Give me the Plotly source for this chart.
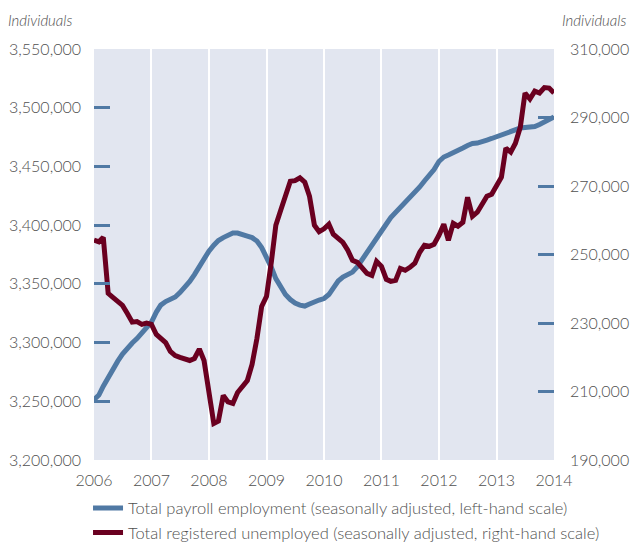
import pandas as pd
import plotly.graph_objects as go

# monthly, Jan 2006 .. Jan 2014
months = pd.date_range("2006-01-01", "2014-01-01", freq="MS")

# total payroll employment, left-hand scale
payroll = [
    3251400, 3255300, 3262900, 3270600, 3277900, 3284200, 3290200, 3295300, 3299600, 3303400, 3308100, 3312300,
    3317500, 3326000, 3331900, 3334900, 3336600, 3338800, 3342600, 3346800, 3352000, 3357900, 3364700, 3372000,
    3377900, 3383000, 3386900, 3389400, 3391100, 3393300, 3393300, 3391600, 3390700, 3389400, 3386500, 3380900,
    3372800, 3363900, 3354500, 3346800, 3340900, 3336600, 3333600, 3331900, 3331100, 3332800, 3334900, 3336200,
    3337500, 3340900, 3346400, 3352400, 3355800, 3357500, 3360000, 3364700, 3371100, 3376200, 3381800, 3388200,
    3395000, 3401000, 3406500, 3410700, 3415000, 3419200, 3423100, 3427300, 3432500, 3437600, 3442200, 3447400,
    3454200, 3458000, 3459700, 3461400, 3464000, 3465700, 3467800, 3469500, 3469900, 3470800, 3472500, 3473800,
    3475500, 3476700, 3478000, 3480200, 3481900, 3482700, 3483100, 3483100, 3484000, 3485700, 3487800, 3489500,
    3492100,
]

# total registered unemployed, right-hand scale
unemployed = [
    254200, 253700, 255000, 238650, 237500, 236300, 235150, 232800, 230250, 230400, 229600, 229950,
    229600, 226650, 225350, 224300, 221700, 220500, 219950, 219650, 219050, 219650, 222400, 219050,
    210300, 200650, 201350, 208850, 206950, 206500, 209700, 211450, 213200, 217900, 225500, 234850,
    237800, 248000, 258550, 262900, 267600, 271400, 271550, 272400, 271100, 267000, 258550, 256650,
    257500, 258850, 255900, 254750, 253550, 251250, 248300, 247700, 245950, 244500, 243900, 248000,
    246550, 242750, 242150, 242450, 245950, 245400, 246250, 247450, 250650, 252700, 252400, 253000,
    255600, 258850, 254150, 259100, 258250, 259400, 266700, 261150, 262350, 264700, 267000, 267600,
    270250, 272550, 281050, 279900, 282500, 287200, 297150, 295400, 297700, 297150, 298750, 298600,
    297150,
]

left_ticks = [3200000, 3250000, 3300000, 3350000, 3400000, 3450000, 3500000, 3550000]
right_ticks = [190000, 210000, 230000, 250000, 270000, 290000, 310000]

BLUE = "#5079a4"
MAROON = "#6a0020"
TXT = "#505050"

fig = go.Figure()

fig.add_trace(
    go.Scatter(
        x=months,
        y=payroll,
        name="Total payroll employment (seasonally adjusted, left-hand scale)",
        mode="lines",
        line={"color": BLUE, "width": 5},
    )
)
fig.add_trace(
    go.Scatter(
        x=months,
        y=unemployed,
        name="Total registered unemployed (seasonally adjusted, right-hand scale)",
        mode="lines",
        line={"color": MAROON, "width": 5},
        yaxis="y2",
    )
)

fig.update_layout(
    width=633,
    height=544,
    margin={"l": 94, "r": 79, "t": 49, "b": 84, "autoexpand": False},
    paper_bgcolor="white",
    plot_bgcolor="#e2e6f0",
    font=dict(family="Lato, sans-serif", size=16, color=TXT, weight=300),
    showlegend=True,
    legend=dict(
        orientation="v",
        x=-0.013,
        xanchor="left",
        y=-0.075,
        yanchor="top",
        font=dict(size=16.5, color=TXT, weight=300),
        tracegroupgap=0,
        itemwidth=30,
        bgcolor="rgba(0,0,0,0)",
    ),
    xaxis=dict(
        type="date",
        range=["2006-01-01", "2014-01-01"],
        dtick="M12",
        tickformat="%Y",
        showgrid=True,
        gridcolor="white",
        gridwidth=2,
        ticks="",
        showline=False,
        zeroline=False,
        automargin=False,
        ticklabelstandoff=9,
    ),
    yaxis=dict(
        range=[3200000, 3550000],
        tickvals=left_ticks,
        tickformat=",",
        showgrid=False,
        zeroline=False,
        automargin=False,
        ticks="inside",
        ticklen=16,
        tickwidth=2.5,
        tickcolor=BLUE,
        ticklabelstandoff=12,
    ),
    yaxis2=dict(
        range=[190000, 310000],
        tickvals=right_ticks,
        tickformat=",",
        overlaying="y",
        side="right",
        showgrid=False,
        zeroline=False,
        automargin=False,
        ticks="inside",
        ticklen=16,
        tickwidth=2.5,
        tickcolor=BLUE,
        ticklabelstandoff=15,
    ),
    annotations=[
        dict(
            text="<i>Individuals</i>", xref="paper", yref="paper",
            x=0, y=1.0, xanchor="left", yanchor="bottom", xshift=-88, yshift=18,
            showarrow=False, font=dict(size=15, color=TXT, weight=300),
        ),
        dict(
            text="<i>Individuals</i>", xref="paper", yref="paper",
            x=1.0, y=1.0, xanchor="right", yanchor="bottom", xshift=74, yshift=18,
            showarrow=False, font=dict(size=15, color=TXT, weight=300),
        ),
    ],
)

# page body has an 8px default margin; drop it so the figure fills the window
fig.write_html(
    "out.html",
    config={"displayModeBar": False},
    post_script="document.body.style.margin='0';",
)
